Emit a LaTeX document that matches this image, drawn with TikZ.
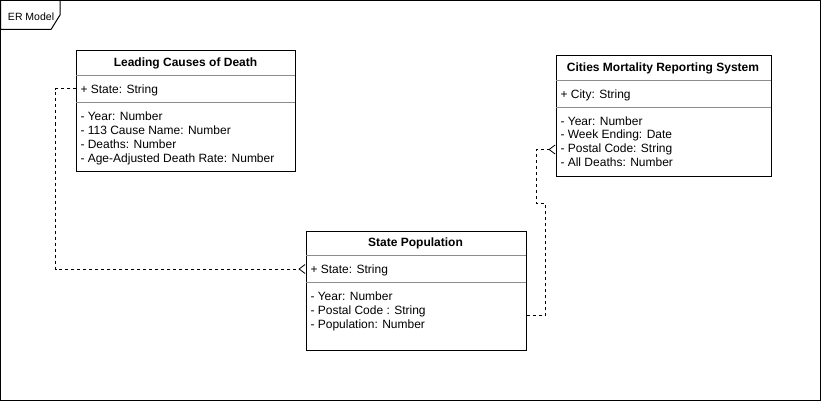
\documentclass[tikz,border=0pt]{standalone}
\usepackage{fontspec}
\setmainfont{Liberation Sans}
\usetikzlibrary{arrows.meta}
\begin{document}
\begin{tikzpicture}[x=1pt,y=-1pt,
  line width=1pt,
  box/.style={draw=black, anchor=north west, inner sep=0pt},
  ttl/.style={font=\fontsize{12}{14}\selectfont\bfseries, inner sep=0pt},
  row/.style={font=\fontsize{12}{14}\selectfont, anchor=west, inner sep=0pt, text height=9pt, text depth=3pt, yshift=-1.5pt},
  sepline/.style={draw=black!45, line width=0.8pt},
  conn/.style={draw=black, dashed, dash pattern=on 3pt off 3pt, line width=1pt,
    -{Straight Barb[reversed,length=6pt,width=9pt,line width=0.8pt]}},
]
\useasboundingbox (0,0) rectangle (821,401);
% outer frame
\draw (0.5,0.5) rectangle (820.5,400.5);
\draw[fill=white] (0.5,0.5) -- (60,0.5) -- (60,15) -- (51,29.5) -- (0.5,29.5) -- cycle;
\node[font=\fontsize{10.5}{12}\selectfont, anchor=west, inner sep=0pt] (frm) at (7.5,17) {ER Model};

% Leading Causes of Death
\node[box, minimum width=219pt, minimum height=120pt] (lcd) at (76,50.5) {};
\node[ttl] (lcdT) at (185.5,63) {Leading Causes of Death};
\draw[sepline] (76,75.5) -- (295,75.5);
\draw[sepline] (76,102.5) -- (295,102.5);
\node[row] (lcdK) at (80,89) {+ State: String};
\node[row] (lcdA) at (80,116) {- Year: Number};
\node[row] (lcdB) at (80,130) {- 113 Cause Name: Number};
\node[row] (lcdC) at (80,144) {- Deaths: Number};
\node[row] (lcdD) at (80,158) {- Age-Adjusted Death Rate: Number};

% State Population
\node[box, minimum width=220pt, minimum height=119pt] (sp) at (305.5,230.5) {};
\node[ttl] (spT) at (415.5,243) {State Population};
\draw[sepline] (305.5,255.5) -- (525.5,255.5);
\draw[sepline] (305.5,282.5) -- (525.5,282.5);
\node[row] (spK) at (310,269) {+ State: String};
\node[row] (spA) at (310,296) {- Year: Number};
\node[row] (spB) at (310,310) {- Postal Code : String};
\node[row] (spC) at (310,324) {- Population: Number};

% Cities Mortality Reporting System
\node[box, minimum width=215pt, minimum height=120pt] (cm) at (555.5,55.5) {};
\node[ttl] (cmT) at (663,68) {Cities Mortality Reporting System};
\draw[sepline] (555.5,80.5) -- (770.5,80.5);
\draw[sepline] (555.5,107.5) -- (770.5,107.5);
\node[row] (cmK) at (560,94) {+ City: String};
\node[row] (cmA) at (560,121) {- Year: Number};
\node[row] (cmB) at (560,134) {- Week Ending: Date};
\node[row] (cmC) at (560,148) {- Postal Code: String};
\node[row] (cmD) at (560,162) {- All Deaths: Number};

% connectors
\coordinate (c1) at (55.5,89);
\coordinate (c2) at (55.5,269);
\draw[conn] (lcd.west |- c1) -- (c1) -- (c2) -- (sp.west |- c2);
\coordinate (d0) at (525.5,315);
\coordinate (d1) at (545.5,315);
\coordinate (d2) at (545.5,203.5);
\coordinate (d3) at (536.5,203.5);
\coordinate (d4) at (536.5,149.5);
\draw[conn] (sp.east |- d0) -- (d1) -- (d2) -- (d3) -- (d4) -- (cm.west |- d4);
\end{tikzpicture}
\end{document}
